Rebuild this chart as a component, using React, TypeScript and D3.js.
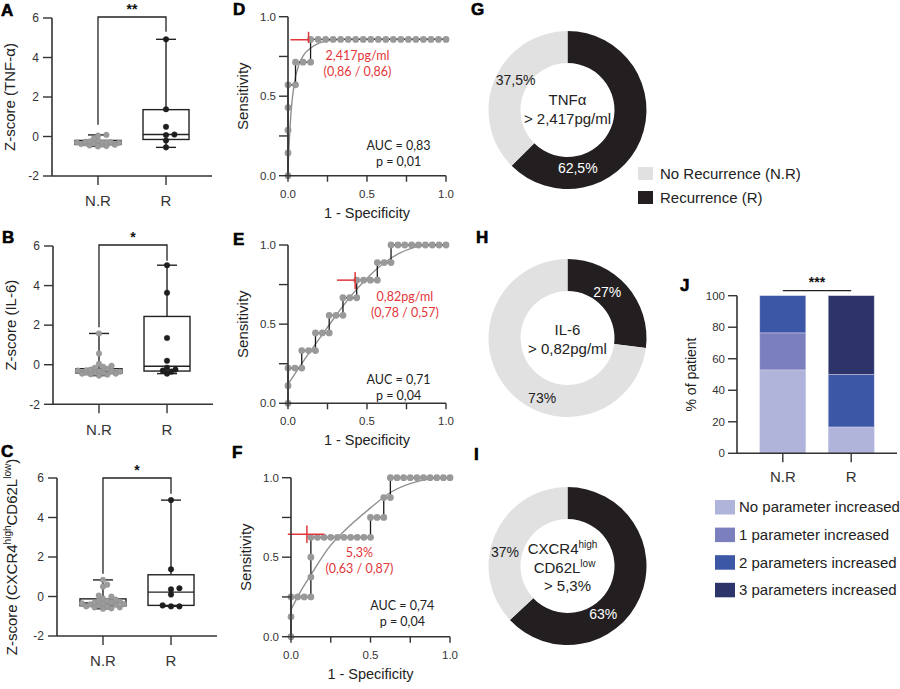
import React from 'react';
import * as d3 from 'd3';

const FONT = "'Liberation Sans', Arial, Helvetica, sans-serif";
const ROC_FONT = "Lato, 'Open Sans', sans-serif";
const AXIS = '#333';
const RED = '#e2363a';

// ---------- Box plots (A-C) ----------
const categories = ['N.R', 'R'];
const zTicks = [-2, 0, 2, 4, 6];

const tnfNR = [0.08, 0.05, -0.1, -0.2, -0.22, -0.25, -0.27, -0.28, -0.3, -0.3, -0.3, -0.32, -0.33, -0.35, -0.35, -0.38, -0.4, -0.42, -0.45, -0.48, -0.5];
const tnfR = [4.92, 1.38, 0.49, 0.1, 0.07, -0.2, -0.55];
const tnfBoxNR = [-0.5, -0.4, -0.3, -0.2, 0.08];
const tnfBoxR = [-0.55, -0.15, 0.1, 1.36, 4.92];

const il6NR = [1.58, 0.57, 0.05, -0.05, -0.1, -0.15, -0.2, -0.25, -0.28, -0.3, -0.3, -0.32, -0.35, -0.35, -0.38, -0.4, -0.4, -0.42, -0.45, -0.45, -0.48, -0.5, -0.55];
const il6R = [5.03, 3.64, 1.35, 0.2, -0.15, -0.25, -0.3, -0.35, -0.45];
const il6BoxNR = [-0.55, -0.42, -0.33, -0.2, 1.58];
const il6BoxR = [-0.45, -0.32, -0.08, 2.44, 5.03];

const cxNR = [0.84, 0.6, 0.5, 0.05, 0.0, -0.1, -0.15, -0.2, -0.22, -0.25, -0.3, -0.3, -0.35, -0.35, -0.38, -0.4, -0.42, -0.45, -0.5, -0.5, -0.55, -0.55, -0.6, -0.62];
const cxR = [4.88, 1.38, 0.42, 0.36, 0.1, -0.45, -0.5, -0.5];
const cxBoxNR = [-0.62, -0.47, -0.33, -0.12, 0.84];
const cxBoxR = [-0.5, -0.45, 0.22, 1.1, 4.88];

// ---------- ROC curves (D-F) ----------
const rocXTicks = [0, 0.25, 0.5, 0.75, 1];
const rocXLabels = [0, 0.5, 1];

const tnfNnr = 21;
const tnfNr = 7;
const tnfRocFP = [0, 0, 0, 0, 0, 1, 1, 2, 3, 3, 4, 5, 6, 7, 8, 9, 10, 11, 12, 13, 14, 15, 16, 17, 18, 19, 20, 21];
const tnfRocTP = [0, 1, 2, 3, 4, 4, 5, 5, 5, 6, 6, 6, 6, 6, 6, 6, 6, 6, 6, 6, 6, 6, 6, 6, 6, 6, 6, 6];
const tnfFitX = [0, 0.01, 0.02, 0.04, 0.07, 0.1, 0.14, 0.2, 0.3, 0.45, 1];
const tnfFitY = [0.05, 0.25, 0.41, 0.58, 0.7, 0.76, 0.8, 0.835, 0.855, 0.86, 0.86];

const il6Nnr = 23;
const il6Nr = 9;
const il6RocFP = [0, 0, 0, 1, 2, 2, 3, 4, 4, 5, 6, 6, 7, 8, 8, 9, 10, 10, 11, 12, 13, 13, 14, 15, 15, 16, 17, 18, 19, 20, 21, 22, 23];
const il6RocTP = [0, 1, 2, 2, 2, 3, 3, 3, 4, 4, 4, 5, 5, 5, 6, 6, 6, 7, 7, 7, 7, 8, 8, 8, 9, 9, 9, 9, 9, 9, 9, 9, 9];
const il6FitX = [0, 0.1, 0.2, 0.3, 0.4, 0.5, 0.6, 0.7, 0.8, 0.9, 1];
const il6FitY = [0.12, 0.27, 0.41, 0.55, 0.68, 0.79, 0.88, 0.945, 0.985, 1.0, 1.0];

const cxNnr = 24;
const cxNr = 8;
const cxRocFP = [0, 0, 0, 1, 2, 3, 3, 3, 3, 4, 5, 6, 7, 8, 9, 10, 11, 12, 12, 13, 14, 14, 15, 15, 16, 17, 18, 19, 20, 21, 22, 23, 24];
const cxRocTP = [0, 1, 2, 2, 2, 2, 3, 4, 5, 5, 5, 5, 5, 5, 5, 5, 5, 5, 6, 6, 6, 7, 7, 8, 8, 8, 8, 8, 8, 8, 8, 8, 8];
const cxFitX = [0, 0.063, 0.126, 0.245, 0.33, 0.5, 0.63, 0.81, 0.94, 1];
const cxFitY = [0.17, 0.29, 0.39, 0.57, 0.66, 0.81, 0.91, 0.98, 1.0, 1.0];

// ---------- Donuts (G-I) ----------
const donutLabels = ['No Recurrence (N.R)', 'Recurrence (R)'];
const donutColors = ['#e1e1e1', '#231f20'];
const tnfDonut = [62.5, 37.5]; // R, N.R (clockwise from top)
const il6Donut = [27, 73];
const cxDonut = [63, 37];
const tnfDonutText = ['62,5%', '37,5%'];
const il6DonutText = ['27%', '73%'];
const cxDonutText = ['63%', '37%'];

// ---------- Stacked bars (J) ----------
const jCategories = ['N.R', 'R'];
const jKeys = ['No parameter increased', '1 parameter increased', '2 parameters increased', '3 parameters increased'];
const jColors = ['#b0b3da', '#7b7fbe', '#3b57a5', '#2c3469'];
const jNone = [52.9, 16.7];
const jOne = [23.5, 0];
const jTwo = [23.6, 33.3];
const jThree = [0, 50];
const jTicks = [0, 20, 40, 60, 80, 100];

function swarm(values: number[], y: (v: number) => number, r: number, maxSpread: number) {
  const order = values.map((v, i) => ({ v, i })).sort((a, b) => a.v - b.v);
  const placed: { x: number; y: number }[] = [];
  const out: { x: number; y: number; v: number }[] = [];
  const step = r * 1.5;
  for (const o of order) {
    const py = y(o.v);
    let chosen = 0;
    let found = false;
    for (let k = 0; k < 40 && !found; k++) {
      const cand = k === 0 ? [0] : [k * step, -k * step];
      for (const c of cand) {
        if (Math.abs(c) > maxSpread) continue;
        const ok = placed.every(p => Math.hypot(p.x - c, p.y - py) >= r * 1.6);
        if (ok) { chosen = c; found = true; break; }
      }
    }
    if (!found) chosen = ((placed.length % 7) - 3) * step;
    placed.push({ x: chosen, y: py });
    out.push({ x: chosen, y: py, v: o.v });
  }
  return out;
}

function Letter({ x, y, t }: { x: number; y: number; t: string }) {
  return <text x={x} y={y} fontSize={17} fontWeight={900} fill="#000" stroke="#000" strokeWidth={0.6} fontFamily="'Liberation Sans', Arial, sans-serif">{t}</text>;
}

function BoxPanel(p: any) {
  const { top, bottom, left, right, letter, ylabel, nr, r, boxNR, boxR, sig, bracketVal, legNR, legR } = p;
  const y = d3.scaleLinear().domain([zTicks[0], zTicks[zTicks.length - 1]]).range([bottom, top]);
  const x = d3.scalePoint<string>().domain(categories).range([left, right]).padding(0.676);
  const groups = [
    { cat: 'N.R', vals: nr, box: boxNR, color: '#9b9b9b', stroke: '#8a8a8a' },
    { cat: 'R', vals: r, box: boxR, color: '#1e1e1e', stroke: '#1e1e1e' },
  ];
  const hw = 23;
  const cap = 10;
  const xN = x('N.R')!;
  const xR = x('R')!;
  return (
    <g>
      <Letter x={letter[0]} y={letter[1]} t={letter[2]} />
      {groups.map(g => {
        const cx = x(g.cat)!;
        const [mn, q1, md, q3, mx] = g.box;
        return (
          <g key={g.cat}>
            <rect x={cx - hw} y={y(q3)} width={hw * 2} height={y(q1) - y(q3)} fill="#fff" stroke="#222" strokeWidth={1.4} />
            <line x1={cx - hw} x2={cx + hw} y1={y(md)} y2={y(md)} stroke="#222" strokeWidth={1.4} />
            <line x1={cx} x2={cx} y1={y(q3)} y2={y(mx)} stroke="#222" strokeWidth={1.4} />
            <line x1={cx} x2={cx} y1={y(q1)} y2={y(mn)} stroke="#222" strokeWidth={1.4} />
            <line x1={cx - cap} x2={cx + cap} y1={y(mx)} y2={y(mx)} stroke="#222" strokeWidth={1.4} />
            <line x1={cx - cap} x2={cx + cap} y1={y(mn)} y2={y(mn)} stroke="#222" strokeWidth={1.4} />
            {swarm(g.vals, y, 2.8, 21).map((pt, i) => (
              <circle key={i} cx={cx + pt.x} cy={pt.y} r={2.8} fill={g.color} stroke={g.stroke} strokeWidth={0.4} />
            ))}
          </g>
        );
      })}
      <line x1={left} x2={left} y1={top} y2={bottom} stroke={AXIS} strokeWidth={1.6} />
      <line x1={left} x2={right} y1={bottom} y2={bottom} stroke={AXIS} strokeWidth={1.6} />
      {zTicks.map(t => (
        <g key={t}>
          <line x1={left - 9} x2={left} y1={y(t)} y2={y(t)} stroke={AXIS} strokeWidth={1.4} />
          <text x={left - 13} y={y(t)} dy="0.35em" textAnchor="end" fontSize={12} fill="#333">{t}</text>
        </g>
      ))}
      {categories.map(c => (
        <g key={c}>
          <line x1={x(c)} x2={x(c)} y1={bottom} y2={bottom + 9} stroke={AXIS} strokeWidth={1.4} />
          <text x={x(c)} y={bottom + 25} dy="0.35em" textAnchor="middle" fontSize={15} fill="#333">{c}</text>
        </g>
      ))}
      <path d={`M${xN},${y(legNR)}V${y(bracketVal)}H${xR}V${y(legR)}`} fill="none" stroke="#222" strokeWidth={1.3} />
      <text x={(xN + xR) / 2} y={y(bracketVal) - 3} textAnchor="middle" fontSize={14} fontWeight="bold" fill="#111">{sig}</text>
      <g transform={`translate(${left - 37},${(top + bottom) / 2}) rotate(-90)`}>
        {ylabel}
      </g>
    </g>
  );
}

function RocPanel(p: any) {
  const { left, top, w, h, letter, fp, tp, nNR, nR, fitX, fitY, cross, txt, txtPos, auc, aucPos } = p;
  const x = d3.scaleLinear().domain([0, 1]).range([left, left + w]);
  const y = d3.scaleLinear().domain([0, 1]).range([top + h, top]);
  const pts = fp.map((f: number, i: number) => [f / nNR, tp[i] / nR]);
  const step = d3.line().curve(d3.curveLinear).x((d: any) => x(d[0])).y((d: any) => y(d[1]));
  const fit = d3.line().curve(d3.curveMonotoneX).x((d: any) => x(d[0])).y((d: any) => y(d[1]));
  const fitPts = fitX.map((v: number, i: number) => [v, fitY[i]]);
  const bottom = top + h;
  return (
    <g>
      <Letter x={letter[0]} y={letter[1]} t={letter[2]} />
      <path d={fit(fitPts as any) || ''} fill="none" stroke="#8f8f8f" strokeWidth={1.4} />
      <path d={step(pts as any) || ''} fill="none" stroke="#1a1a1a" strokeWidth={1.3} />
      {pts.map((d: number[], i: number) => (
        <circle key={i} cx={x(d[0])} cy={y(d[1])} r={3.4} fill="#999" />
      ))}
      <line x1={x(cross.h[0])} x2={x(cross.h[1])} y1={y(cross.h[2])} y2={y(cross.h[2])} stroke={RED} strokeWidth={1.5} />
      <line x1={x(cross.v[0])} x2={x(cross.v[0])} y1={y(cross.v[1])} y2={y(cross.v[2])} stroke={RED} strokeWidth={1.5} />
      <line x1={left} x2={left} y1={top} y2={bottom} stroke={AXIS} strokeWidth={1.6} />
      <line x1={left} x2={left + w} y1={bottom} y2={bottom} stroke={AXIS} strokeWidth={1.6} />
      {rocXTicks.map(t => (
        <g key={'y' + t}>
          <line x1={left - 9} x2={left} y1={y(t)} y2={y(t)} stroke={AXIS} strokeWidth={1.4} />
          <line x1={x(t)} x2={x(t)} y1={bottom} y2={bottom + 6} stroke={AXIS} strokeWidth={1.4} />
        </g>
      ))}
      {rocXLabels.map(t => (
        <g key={'l' + t}>
          <text x={left - 12} y={y(t)} dy="0.35em" textAnchor="end" fontSize={11.5} fill="#333">{t.toFixed(1)}</text>
          <text x={x(t)} y={bottom + 18} dy="0.35em" textAnchor="middle" fontSize={11.5} fill="#333">{t.toFixed(1)}</text>
        </g>
      ))}
      <text x={left + w / 2} y={bottom + 37} dy="0.35em" textAnchor="middle" fontSize={14.5} fill="#222">1 - Specificity</text>
      <text transform={`translate(${left - 45},${top + h / 2}) rotate(-90)`} textAnchor="middle" dy="0.35em" fontSize={15} fill="#222">Sensitivity</text>
      <text fontFamily={ROC_FONT} fontSize={12.5} fill={RED} textAnchor="middle">
        <tspan x={x(txtPos[0])} y={y(txtPos[1])}>{txt[0]}</tspan>
        <tspan x={x(txtPos[0])} dy={16}>{txt[1]}</tspan>
      </text>
      <text fontFamily={ROC_FONT} fontSize={12.5} fill="#222" textAnchor="middle">
        <tspan x={x(aucPos[0])} y={y(aucPos[1])}>{auc[0]}</tspan>
        <tspan x={x(aucPos[0])} dy={16}>{auc[1]}</tspan>
      </text>
    </g>
  );
}

function Donut(p: any) {
  const { cx, cy, values, texts, labelAngles, labelR, center, letter } = p;
  const pie = d3.pie<number>().sort(null).value(d => d);
  const arc = d3.arc<any>().innerRadius(47).outerRadius(79);
  const arcs = pie(values);
  const fills = [donutColors[1], donutColors[0]];
  const tcols = ['#fff', '#222'];
  return (
    <g>
      <Letter x={letter[0]} y={letter[1]} t={letter[2]} />
      <g transform={`translate(${cx},${cy})`}>
        {arcs.map((a, i) => <path key={i} d={arc(a) || ''} fill={fills[i]} />)}
        {arcs.map((a, i) => {
          const ang = (labelAngles[i] * Math.PI) / 180;
          return (
            <text key={'t' + i} x={labelR[i] * Math.sin(ang)} y={-labelR[i] * Math.cos(ang)} dy="0.35em" textAnchor="middle" fontSize={14} fill={tcols[i]}>{texts[i]}</text>
          );
        })}
        {center}
      </g>
    </g>
  );
}

function StackPanel() {
  const left = 737, right = 897, top = 295.7, bottom = 453.3;
  const y = d3.scaleLinear().domain([0, 100]).range([bottom, top]);
  const x = d3.scalePoint<string>().domain(jCategories).range([left, right]).padding(0.67);
  const table = jCategories.map((c, i) => ({ cat: c, [jKeys[0]]: jNone[i], [jKeys[1]]: jOne[i], [jKeys[2]]: jTwo[i], [jKeys[3]]: jThree[i] }));
  const series = d3.stack<any>().keys(jKeys)(table);
  const bw = 46;
  const xN = x('N.R')!, xR = x('R')!;
  return (
    <g>
      <Letter x={680} y={291} t="J" />
      {series.map((s, si) => s.map((d, di) => (
        d[1] - d[0] > 0 ? <rect key={si + '-' + di} x={x(jCategories[di])! - bw / 2} y={y(d[1])} width={bw} height={y(d[0]) - y(d[1])} fill={jColors[si]} stroke="#d4d6ee" strokeWidth={0.5} /> : null
      )))}
      <line x1={left} x2={left} y1={top} y2={bottom} stroke={AXIS} strokeWidth={1.6} />
      <line x1={left} x2={right} y1={bottom} y2={bottom} stroke={AXIS} strokeWidth={1.6} />
      {jTicks.map(t => (
        <g key={t}>
          <line x1={left - 9} x2={left} y1={y(t)} y2={y(t)} stroke={AXIS} strokeWidth={1.4} />
          <text x={left - 12} y={y(t)} dy="0.35em" textAnchor="end" fontSize={11.5} fill="#333">{t}</text>
        </g>
      ))}
      {jCategories.map(c => (
        <g key={c}>
          <line x1={x(c)} x2={x(c)} y1={bottom} y2={bottom + 9} stroke={AXIS} strokeWidth={1.4} />
          <text x={x(c)} y={bottom + 23} dy="0.35em" textAnchor="middle" fontSize={15} fill="#333">{c}</text>
        </g>
      ))}
      <text transform={`translate(${left - 46},${(top + bottom) / 2}) rotate(-90)`} textAnchor="middle" dy="0.35em" fontSize={14} fill="#222">% of patient</text>
      <line x1={xN} x2={xR} y1={290.7} y2={290.7} stroke="#222" strokeWidth={1.3} />
      <text x={(xN + xR) / 2} y={287} textAnchor="middle" fontSize={14} fontWeight="bold" fill="#111">***</text>
      {jKeys.map((k, i) => (
        <g key={k}>
          <rect x={715} y={500 + i * 27.6} width={20} height={14.5} fill={jColors[i]} />
          <text x={739} y={507.2 + i * 27.6} dy="0.35em" fontSize={15} fill="#222">{k}</text>
        </g>
      ))}
    </g>
  );
}

export default function App() {
  const supStyle = { fontSize: 10 } as any;
  return (
    <svg width={900} height={689} style={{ position: 'absolute', left: 0, top: 0, background: '#fff' }} fontFamily={FONT}>
      <rect width={900} height={689} fill="#fff" />
      <BoxPanel top={18} bottom={176} left={52} right={212} letter={[1, 16, 'A']}
        nr={tnfNR} r={tnfR} boxNR={tnfBoxNR} boxR={tnfBoxR} sig="**" bracketVal={6.05} legNR={0.6} legR={5.3}
        ylabel={<text textAnchor="middle" fontSize={15} fill="#222">Z-score (TNF-α)</text>} />
      <BoxPanel top={246} bottom={404.3} left={53} right={213} letter={[2, 243, 'B']}
        nr={il6NR} r={il6R} boxNR={il6BoxNR} boxR={il6BoxR} sig="*" bracketVal={6.05} legNR={1.9} legR={5.25}
        ylabel={<text textAnchor="middle" fontSize={15} fill="#222">Z-score (IL-6)</text>} />
      <BoxPanel top={478} bottom={636} left={57} right={217} letter={[1, 457, 'C']}
        nr={cxNR} r={cxR} boxNR={cxBoxNR} boxR={cxBoxR} sig="*" bracketVal={6.0} legNR={1.15} legR={5.2}
        ylabel={<text textAnchor="middle" fontSize={15} fill="#222" transform="translate(0,-3)">Z-score (CXCR4<tspan dy={-6} style={supStyle}>high</tspan><tspan dy={6}>CD62L</tspan><tspan dy={-6} style={supStyle}>low</tspan><tspan dy={6}>)</tspan></text>} />

      <RocPanel left={288} top={16.7} w={158} h={159} letter={[233, 15, 'D']}
        fp={tnfRocFP} tp={tnfRocTP} nNR={tnfNnr} nR={tnfNr} fitX={tnfFitX} fitY={tnfFitY}
        cross={{ h: [0.015, 0.13, 0.855], v: [0.13, 0.905, 0.835] }}
        txt={['2,417pg/ml', '(0,86 / 0,86)']} txtPos={[0.44, 0.73]}
        auc={['AUC = 0,83', 'p = 0,01']} aucPos={[0.7, 0.16]} />
      <RocPanel left={288} top={245} w={158} h={158.3} letter={[233, 245, 'E']}
        fp={il6RocFP} tp={il6RocTP} nNR={il6Nnr} nR={il6Nr} fitX={il6FitX} fitY={il6FitY}
        cross={{ h: [0.31, 0.425, 0.778], v: [0.425, 0.83, 0.72] }}
        txt={['0,82pg/ml', '(0,78 / 0,57)']} txtPos={[0.74, 0.645]}
        auc={['AUC = 0,71', 'p = 0,04']} aucPos={[0.7, 0.12]} />
      <RocPanel left={291} top={477.7} w={159} h={159} letter={[232, 458, 'F']}
        fp={cxRocFP} tp={cxRocTP} nNR={cxNnr} nR={cxNr} fitX={cxFitX} fitY={cxFitY}
        cross={{ h: [-0.02, 0.21, 0.645], v: [0.1, 0.7, 0.59] }}
        txt={['5,3%', '(0,63 / 0,87)']} txtPos={[0.43, 0.5]}
        auc={['AUC = 0,74', 'p = 0,04']} aucPos={[0.7, 0.17]} />

      <Donut cx={567.5} cy={110} values={tnfDonut} texts={tnfDonutText} labelAngles={[170, 300]} labelR={[59, 60]} letter={[471, 15, 'G']}
        center={<text textAnchor="middle" fontSize={15} fill="#222"><tspan x={0} y={-5}>TNFα</tspan><tspan x={0} dy={19}>&gt; 2,417pg/ml</tspan></text>} />
      <Donut cx={567.5} cy={338} values={il6Donut} texts={il6DonutText} labelAngles={[40.6, 203]} labelR={[61, 65]} letter={[476, 243, 'H']}
        center={<text textAnchor="middle" fontSize={15} fill="#222"><tspan x={0} y={-3}>IL-6</tspan><tspan x={0} dy={19}>&gt; 0,82pg/ml</tspan></text>} />
      <Donut cx={567.5} cy={566} values={cxDonut} texts={cxDonutText} labelAngles={[143.5, 282.6]} labelR={[60, 64]} letter={[474, 460, 'I']}
        center={<text textAnchor="middle" fontSize={15} fill="#222">
          <tspan x={-5} y={-12}>CXCR4</tspan><tspan dy={-6} style={supStyle}>high</tspan>
          <tspan x={-3} y={7}>CD62L</tspan><tspan dy={-6} style={supStyle}>low</tspan>
          <tspan x={0} y={25}>&gt; 5,3%</tspan>
        </text>} />
      {donutLabels.map((l, i) => (
        <g key={l}>
          <rect x={638} y={167 + i * 24} width={15} height={13} fill={donutColors[i]} />
          <text x={660} y={173.5 + i * 24} dy="0.35em" fontSize={15} fill="#222">{l}</text>
        </g>
      ))}
      <StackPanel />
    </svg>
  );
}
